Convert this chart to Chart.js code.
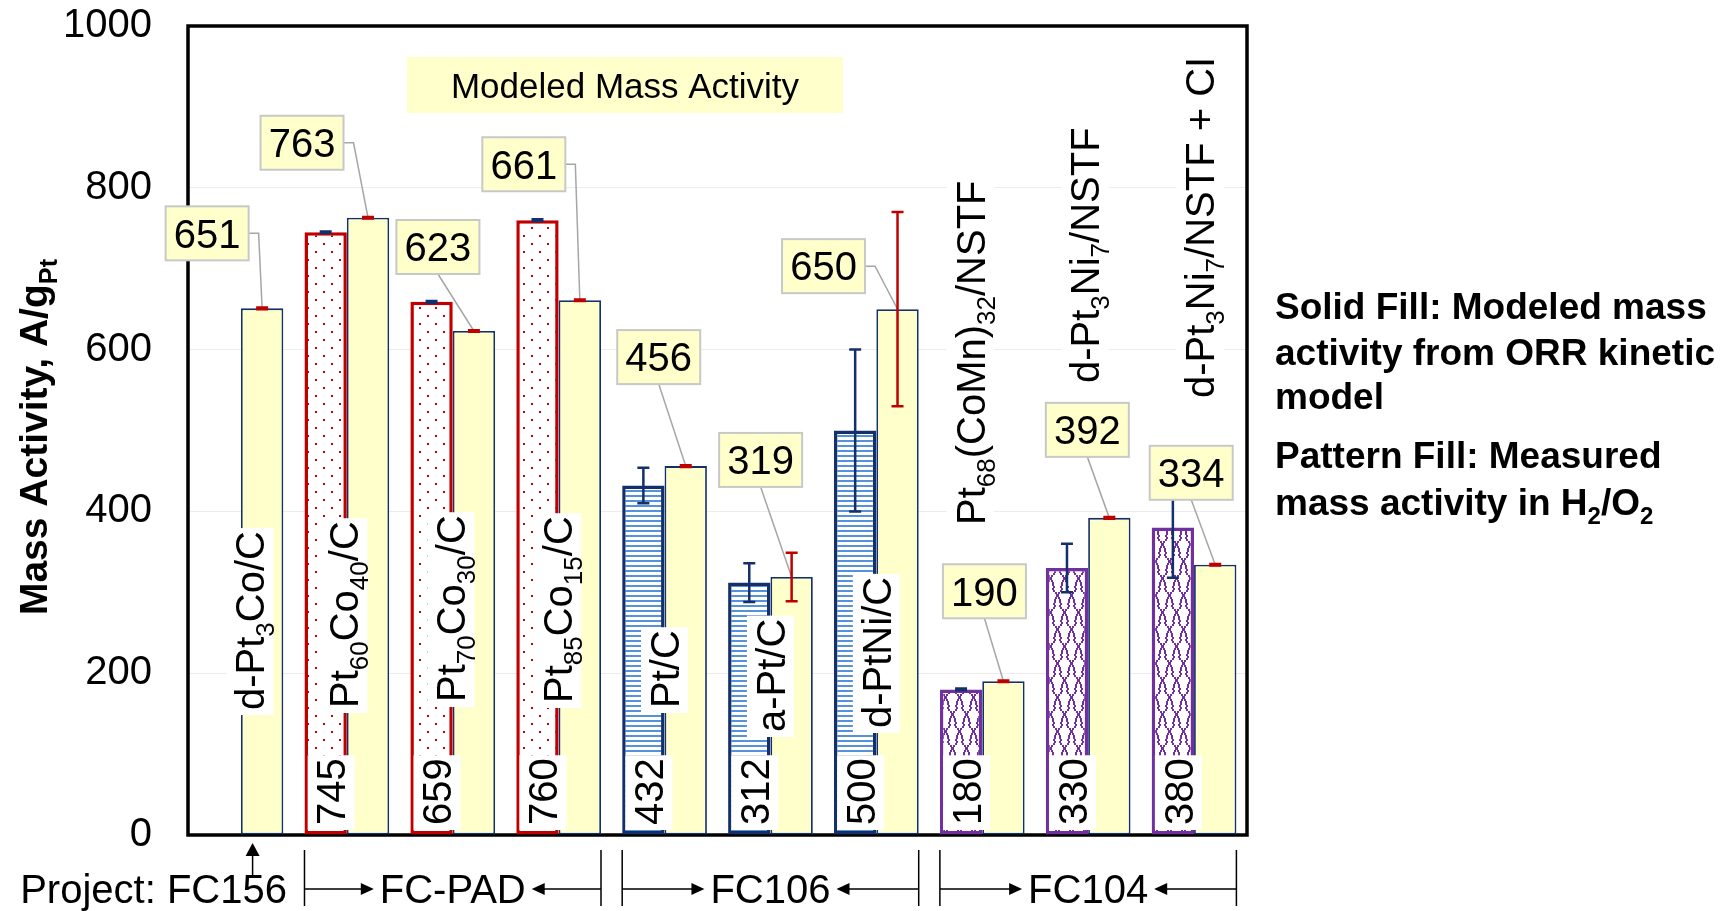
<!DOCTYPE html>
<html>
<head>
<meta charset="utf-8">
<script src="https://cdn.jsdelivr.net/npm/chart.js@4.4.1/dist/chart.umd.min.js"></script>
<style>
  html, body { margin: 0; padding: 0; background: #ffffff; }
  #wrap { width: 1731px; height: 911px; position: relative; }
</style>
</head>
<body>
<div id="wrap"><canvas id="c" width="1731" height="911"></canvas></div>
<script>
// ---- data -------------------------------------------------------------
// Catalyst names; "_{...}" marks a subscript.
const categories = [
  'd-Pt_{3}Co/C', 'Pt_{60}Co_{40}/C', 'Pt_{70}Co_{30}/C', 'Pt_{85}Co_{15}/C',
  'Pt/C', 'a-Pt/C', 'd-PtNi/C',
  'Pt_{68}(CoMn)_{32}/NSTF', 'd-Pt_{3}Ni_{7}/NSTF', 'd-Pt_{3}Ni_{7}/NSTF + CI'
];
// Measured mass activity in H2/O2 (A/gPt) and its error
const measured    = [null, 745, 659, 760, 432, 312, 500, 180, 330, 380];
const measuredErr = [null, 1, 1, 1, 22, 24, 100, 1, 30, 62];
// Modeled mass activity from the ORR kinetic model (A/gPt) and its error
const modeled     = [651, 763, 623, 661, 456, 319, 650, 190, 392, 334];
const modeledErr  = [1, 1, 1, 1, 1, 30, 120, 1, 1, 1];
// Funding project of each catalyst
const projects  = ['FC156', 'FC-PAD', 'FC106', 'FC104'];
const projectOf = [0, 1, 1, 1, 2, 2, 2, 3, 3, 3];
const yTicks = [0, 200, 400, 600, 800, 1000];

// ---- look & layout ----------------------------------------------------
const FONT = "'Liberation Sans', Arial, Helvetica, sans-serif";
const NAVY = '#14306b';
const RED = '#c00000';
const PURPLE = '#7030a0';
const CREAM = '#ffffcc';

// callout box centre relative to the top of each modeled bar, and leader style
const calloutOffset = [
  [-55, -75, 'side'], [-66, -75, 'side'], [-36, -84, 'down'], [-56, -136, 'side'],
  [-27, -109, 'down'], [-31, -117, 'down'], [-74, -43, 'side'],
  [-19, -90, 'down'], [-22, -88, 'down'], [-24, -92, 'down']
];
// catalyst name labels: horizontal shift from group centre, lift of text start above the axis
const catLabelDx   = [9, -3, -2, -1, 0, 0, 0, -12, -3, 6];
const catLabelLift = [125, 127, 133, 132, 127, 103, 107, 310, 452, 437];

Chart.defaults.font.family = FONT;

function makeTile(w, h, draw) {
  const c = document.createElement('canvas');
  c.width = w; c.height = h;
  const g = c.getContext('2d');
  g.fillStyle = '#ffffff';
  g.fillRect(0, 0, w, h);
  draw(g);
  return c;
}
const baseCtx = document.getElementById('c').getContext('2d');
const dotFill = baseCtx.createPattern(makeTile(16, 16, g => {
  g.fillStyle = RED;
  g.fillRect(3, 3, 2, 2);
  g.fillRect(11, 11, 2, 2);
}), 'repeat');
const stripeFill = baseCtx.createPattern(makeTile(8, 5, g => {
  g.fillStyle = '#5691dc';
  g.fillRect(0, 0, 8, 2);
}), 'repeat');
// interlocking scale ("shingle") cells
const TW = 14, TH = 34;
const scaleFill = baseCtx.createPattern(makeTile(TW, TH, g => {
  g.fillStyle = PURPLE;
  const px = (x, y) => g.fillRect(((x % TW) + TW) % TW, ((y % TH) + TH) % TH, 2, 2);
  const cell = (x0, y0) => {
    const flank = [[7, 0], [6, 2], [5, 4], [5, 6], [4, 8], [5, 10], [4, 12], [2, 14], [1, 16]];
    flank.forEach(([dx, dy]) => { px(x0 - dx, y0 + dy); px(x0 + dx - 1, y0 + dy); });
    px(x0 - 1, y0 + 17);
  };
  cell(7, 0);
  cell(0, 17);
  cell(14, 17);
}), 'repeat');

const measuredFill   = [null, dotFill, stripeFill, scaleFill];
const measuredBorder = [null, RED, NAVY, PURPLE];

// ---- rich text helpers (subscripts) -------------------------------------
function segs(s) {
  const out = [];
  const re = /_\{([^}]*)\}/g;
  let last = 0, m;
  while ((m = re.exec(s))) {
    if (m.index > last) out.push({ t: s.slice(last, m.index), sub: false });
    out.push({ t: m[1], sub: true });
    last = re.lastIndex;
  }
  if (last < s.length) out.push({ t: s.slice(last), sub: false });
  return out;
}
function fontFor(size, bold) { return (bold ? 'bold ' : '') + size + 'px ' + FONT; }
function richWidth(ctx, sg, size, bold) {
  let w = 0;
  for (const g of sg) {
    ctx.font = fontFor(g.sub ? size * 0.65 : size, bold);
    w += ctx.measureText(g.t).width;
  }
  return w;
}
function richDraw(ctx, sg, x, y, size, bold) {
  ctx.textAlign = 'left';
  ctx.textBaseline = 'alphabetic';
  for (const g of sg) {
    ctx.font = fontFor(g.sub ? size * 0.65 : size, bold);
    ctx.fillText(g.t, x, y + (g.sub ? size * 0.25 : 0));
    x += ctx.measureText(g.t).width;
  }
}
// vertical label reading bottom to top on a white box
function rotatedLabel(ctx, text, cx, yStart, size) {
  const sg = segs(text);
  const w = richWidth(ctx, sg, size, false);
  ctx.save();
  ctx.translate(cx, yStart);
  ctx.rotate(-Math.PI / 2);
  ctx.fillStyle = '#ffffff';
  ctx.fillRect(-5, -23.5, w + 8, 47);
  ctx.fillStyle = '#000000';
  richDraw(ctx, sg, 0, size * 0.358, size, false);
  ctx.restore();
}
function arrowHead(ctx, x, y, dir) { // dir: 'right' | 'left' | 'up'
  ctx.beginPath();
  if (dir === 'right') { ctx.moveTo(x, y); ctx.lineTo(x - 13, y - 6); ctx.lineTo(x - 13, y + 6); }
  else if (dir === 'left') { ctx.moveTo(x, y); ctx.lineTo(x + 13, y - 6); ctx.lineTo(x + 13, y + 6); }
  else { ctx.moveTo(x, y); ctx.lineTo(x - 7, y + 13); ctx.lineTo(x + 7, y + 13); }
  ctx.closePath();
  ctx.fill();
}

// ---- drawing pieces -----------------------------------------------------
function drawFrameAndBanner(chart) {
  const { ctx, chartArea: a } = chart;
  ctx.save();
  ctx.fillStyle = CREAM;
  ctx.fillRect(407, 57, 436, 56);
  ctx.fillStyle = '#000000';
  ctx.font = fontFor(35, false);
  ctx.textAlign = 'center';
  ctx.textBaseline = 'alphabetic';
  ctx.fillText('Modeled Mass Activity', 625, 97.5);
  ctx.strokeStyle = '#000000';
  ctx.lineWidth = 3.5;
  ctx.strokeRect(a.left, a.top, a.right - a.left, a.bottom - a.top);
  ctx.restore();
}

function calloutGeom(chart, i) {
  const el = chart.getDatasetMeta(1).data[i];
  const [dx, dy, mode] = calloutOffset[i];
  return { bx: el.x, by: el.y, cx: el.x + dx, cy: el.y + dy, w: 83, h: 54, mode };
}

function drawLeaders(chart) {
  const ctx = chart.ctx;
  ctx.save();
  ctx.strokeStyle = '#a6a6a6';
  ctx.lineWidth = 1.5;
  modeled.forEach((v, i) => {
    const g = calloutGeom(chart, i);
    ctx.beginPath();
    if (g.mode === 'side') {
      ctx.moveTo(g.cx + g.w / 2, g.cy);
      ctx.lineTo(g.cx + g.w / 2 + 10, g.cy);
    } else {
      ctx.moveTo(g.cx, g.cy + g.h / 2);
    }
    ctx.lineTo(g.bx, g.by);
    ctx.stroke();
  });
  ctx.restore();
}

function drawErrorBars(chart) {
  const ctx = chart.ctx, ys = chart.scales.y;
  ctx.save();
  ctx.lineWidth = 2.5;
  [[0, measured, measuredErr, NAVY], [1, modeled, modeledErr, RED]].forEach(([di, vals, errs, col]) => {
    const meta = chart.getDatasetMeta(di);
    ctx.strokeStyle = col;
    vals.forEach((v, i) => {
      if (v == null || errs[i] == null) return;
      const x = meta.data[i].x;
      const yt = ys.getPixelForValue(v + errs[i]);
      const yb = ys.getPixelForValue(v - errs[i]);
      ctx.beginPath();
      ctx.moveTo(x, yt); ctx.lineTo(x, yb);
      ctx.moveTo(x - 6, yt); ctx.lineTo(x + 6, yt);
      ctx.moveTo(x - 6, yb); ctx.lineTo(x + 6, yb);
      ctx.stroke();
    });
  });
  ctx.restore();
}

function drawBarLabels(chart) {
  const ctx = chart.ctx, xs = chart.scales.x, a = chart.chartArea;
  const mMeta = chart.getDatasetMeta(0);
  // measured values at the base of the patterned bars
  measured.forEach((v, i) => {
    if (v == null) return;
    rotatedLabel(ctx, String(v), mMeta.data[i].x + 5.5, a.bottom - 10, 40);
  });
  // catalyst names
  categories.forEach((name, i) => {
    rotatedLabel(ctx, name, xs.getPixelForValue(i) + catLabelDx[i], a.bottom - catLabelLift[i], 40);
  });
}

function drawCalloutBoxes(chart) {
  const ctx = chart.ctx;
  ctx.save();
  modeled.forEach((v, i) => {
    const g = calloutGeom(chart, i);
    const l = g.cx - g.w / 2, t = g.cy - g.h / 2;
    ctx.fillStyle = CREAM;
    ctx.fillRect(l, t, g.w, g.h);
    ctx.strokeStyle = '#c8c8c8';
    ctx.lineWidth = 2;
    ctx.strokeRect(l, t, g.w, g.h);
    ctx.fillStyle = '#000000';
    ctx.font = fontFor(40, false);
    ctx.textAlign = 'center';
    ctx.textBaseline = 'alphabetic';
    ctx.fillText(String(v), g.cx, g.cy + 14.3);
  });
  ctx.restore();
}

function drawAxisTitle(chart) {
  const ctx = chart.ctx;
  const sg = segs('Mass Activity, A/g_{Pt}');
  const size = 39;
  const w = richWidth(ctx, sg, size, true);
  ctx.save();
  ctx.translate(33, 437);
  ctx.rotate(-Math.PI / 2);
  ctx.fillStyle = '#000000';
  richDraw(ctx, sg, -w / 2, size * 0.358, size, true);
  ctx.restore();
}

function drawNote(chart) {
  const ctx = chart.ctx;
  const lines = [
    ['Solid Fill: Modeled mass', 319],
    ['activity from ORR kinetic', 365],
    ['model', 409],
    ['Pattern Fill: Measured', 468],
    ['mass activity in H_{2}/O_{2}', 515]
  ];
  ctx.save();
  ctx.fillStyle = '#000000';
  lines.forEach(([t, y]) => richDraw(ctx, segs(t), 1275, y, 37, true));
  ctx.restore();
}

function drawProjects(chart) {
  const ctx = chart.ctx, xs = chart.scales.x;
  const cw = xs.width / categories.length;
  const yLine = 889, yTop = 850, yBot = 906, base = 903;
  ctx.save();
  ctx.fillStyle = '#000000';
  ctx.strokeStyle = '#000000';
  ctx.lineWidth = 1.5;
  ctx.font = fontFor(40, false);
  ctx.textBaseline = 'alphabetic';
  projects.forEach((p, pi) => {
    const idx = projectOf.map((q, i) => q === pi ? i : -1).filter(i => i >= 0);
    const left = xs.getPixelForValue(idx[0]) - 0.4 * cw;
    const right = xs.getPixelForValue(idx[idx.length - 1]) + 0.4 * cw;
    if (idx.length === 1) {
      // single catalyst: label with an arrow pointing up at it
      const ax = xs.getPixelForValue(idx[0]) + 0.11 * cw;
      ctx.textAlign = 'right';
      ctx.fillText('Project: ' + p, left + 0.4 * cw + 46, base);
      ctx.beginPath();
      ctx.moveTo(ax, 878); ctx.lineTo(ax, 850);
      ctx.stroke();
      arrowHead(ctx, ax, 843, 'up');
      return;
    }
    const mid = (left + right) / 2;
    ctx.textAlign = 'center';
    ctx.fillText(p, mid, base);
    const tw = ctx.measureText(p).width;
    const tl = mid - tw / 2 - 6, tr = mid + tw / 2 + 6;
    ctx.beginPath();
    ctx.moveTo(left, yTop); ctx.lineTo(left, yBot);
    ctx.moveTo(right, yTop); ctx.lineTo(right, yBot);
    ctx.moveTo(left, yLine); ctx.lineTo(tl - 10, yLine);
    ctx.moveTo(right, yLine); ctx.lineTo(tr + 10, yLine);
    ctx.stroke();
    arrowHead(ctx, tl, yLine, 'right');
    arrowHead(ctx, tr, yLine, 'left');
  });
  ctx.restore();
}

const overlay = {
  id: 'overlay',
  beforeDatasetsDraw(chart) { drawFrameAndBanner(chart); },
  afterDatasetsDraw(chart) {
    drawLeaders(chart);
    drawBarLabels(chart);
    drawErrorBars(chart);
    drawCalloutBoxes(chart);
  },
  afterDraw(chart) {
    drawAxisTitle(chart);
    drawNote(chart);
    drawProjects(chart);
  }
};

new Chart(document.getElementById('c'), {
  type: 'bar',
  data: {
    labels: categories,
    datasets: [
      {
        label: 'Measured',
        data: measured,
        backgroundColor: c => measuredFill[projectOf[c.dataIndex]] || '#ffffff',
        borderColor: c => measuredBorder[projectOf[c.dataIndex]] || NAVY,
        borderWidth: 3.5,
        borderSkipped: false,
        categoryPercentage: 0.8,
        barPercentage: 1.0
      },
      {
        label: 'Modeled',
        data: modeled,
        backgroundColor: CREAM,
        borderColor: NAVY,
        borderWidth: 1.8,
        borderSkipped: false,
        categoryPercentage: 0.8,
        barPercentage: 1.0
      }
    ]
  },
  options: {
    responsive: false,
    animation: false,
    devicePixelRatio: 1,
    layout: { padding: { left: 0, top: 26, right: 484, bottom: 76 } },
    plugins: { legend: { display: false }, tooltip: { enabled: false } },
    scales: {
      x: { display: false, offset: true, grid: { display: false } },
      y: {
        min: 0, max: 1000,
        afterBuildTicks: s => { s.ticks = yTicks.map(v => ({ value: v })); },
        afterFit: s => { s.width = 188; s.paddingTop = 0; s.paddingBottom = 0; },
        border: { display: false },
        grid: { color: '#ececec', lineWidth: 1, drawTicks: false },
        ticks: {
          padding: 36, color: '#000000', font: { size: 40, family: FONT },
          callback: v => String(v)
        }
      }
    }
  },
  plugins: [overlay]
});
</script>
</body>
</html>
